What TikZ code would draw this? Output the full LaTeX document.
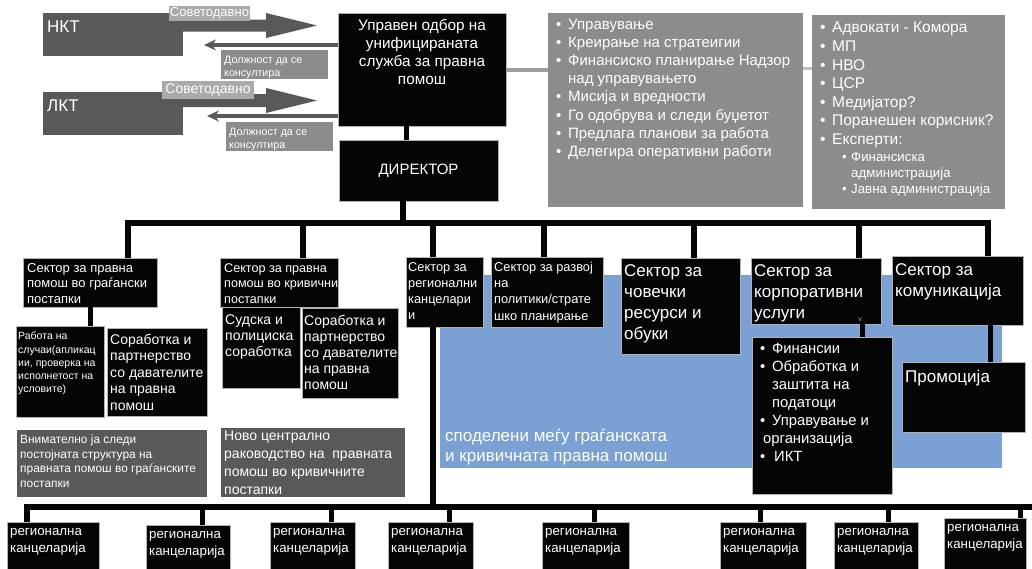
\documentclass[tikz,border=0pt]{standalone}
\usepackage{fontspec}
\setmainfont{Liberation Sans}
\usetikzlibrary{arrows.meta,calc}
\definecolor{dk}{RGB}{89,89,89}
\definecolor{md}{RGB}{140,140,140}
\definecolor{lt}{RGB}{170,170,170}
\definecolor{bl}{RGB}{123,160,212}
\definecolor{bk}{RGB}{5,5,5}
\newcommand\mybul[1]{\makebox[#1][l]{•}}
\newcommand\myind[1]{\makebox[#1][l]{}}
\tikzset{
  box/.style={anchor=north west, inner sep=0pt, outer sep=0pt},
  blk/.style={box, fill=bk, draw=gray!60, line width=0.6pt},
  dkb/.style={box, fill=dk},
  mdb/.style={box, fill=md},
  txt/.style={anchor=north west, inner sep=0pt, align=left, text=white},
  conn/.style={draw=bk, line width=6pt, line join=miter},
  gconn/.style={draw=gray!75, line width=4pt},
  thinarr/.style={draw=dk, line width=3.5pt, -{Stealth[length=12pt,width=11pt]}},
}
\begin{document}
\begin{tikzpicture}[x=1pt,y=-1pt]
\useasboundingbox (0,0) rectangle (1032,568);
\fill[white] (0,0) rectangle (1032,568);
\clip (0,0) rectangle (1032,568);

% ---------- top left ----------
\node[dkb, minimum width=140, minimum height=43] (nkt) at (43,13) {};
\node[txt, font=\fontsize{17}{20}\selectfont] (nktt) at (47,21) {НКТ};
\fill[dk] (nkt.east |- 0,19.5) -- (266,19.5) -- (266,13) -- (317,25.5) -- (266,38) -- (266,31.5) -- (nkt.east |- 0,31.5) -- cycle;
\node[box, fill=lt, text=white, minimum width=81, minimum height=15, font=\fontsize{13}{14}\selectfont] (sov1) at (169,6) {Советодавно};

\node[dkb, minimum width=140, minimum height=43] (lkt) at (43,92) {};
\node[txt, font=\fontsize{17}{20}\selectfont] (lktt) at (47,100) {ЛКТ};
\fill[dk] (lkt.east |- 0,94) -- (266,94) -- (266,88) -- (317,100.5) -- (266,113) -- (266,107) -- (lkt.east |- 0,107) -- cycle;
\node[box, fill=lt, text=white, minimum width=92, minimum height=18, font=\fontsize{14}{16}\selectfont] (sov2) at (162,81) {Советодавно};

% board and director
\node[blk, minimum width=168, minimum height=113] (board) at (338,13) {};
\node[anchor=north, inner sep=0pt, align=center, text=white, font=\fontsize{15.3}{18}\selectfont] (boardt) at (422,19) {Управен одбор на\\унифицираната\\служба за правна\\помош};
\node[blk, minimum width=159, minimum height=61, text=white, font=\fontsize{15}{18}\selectfont] (dir) at (339,140) {ДИРЕКТОР};

\coordinate (a1e) at (204,45);
\coordinate (a2e) at (207,116);
\draw[thinarr] (a1e -| board.west) -- (a1e);
\draw[thinarr] (a2e -| board.west) -- (a2e);

\node[mdb, minimum width=107, minimum height=29] (dol1) at (221,50) {};
\node[txt, font=\fontsize{10.7}{13}\selectfont] (dol1t) at (224,56) {Должност да се\\консултира};
\node[mdb, minimum width=107, minimum height=29] (dol2) at (226,122) {};
\node[txt, font=\fontsize{10.7}{13}\selectfont] (dol2t) at (229,128) {Должност да се\\консултира};

% gray lists
\node[mdb, minimum width=255, minimum height=194] (g1) at (548,13) {};
\node[txt, font=\fontsize{15}{18.1}\selectfont] (g1t) at (556,19) {\mybul{12pt}Управување\\\mybul{12pt}Креирање на стратеигии\\\mybul{12pt}Финансиско планирање Надзор\\\myind{12pt}над управувањето\\\mybul{12pt}Мисија и вредности\\\mybul{12pt}Го одобрува и следи буџетот\\\mybul{12pt}Предлага планови за работа\\\mybul{12pt}Делегира оперативни работи};
\node[mdb, minimum width=193, minimum height=194] (g2) at (812,15) {};
\node[txt, font=\fontsize{15.5}{18.6}\selectfont] (g2t) at (820,22) {\mybul{12pt}Адвокати - Комора\\\mybul{12pt}МП\\\mybul{12pt}НВО\\\mybul{12pt}ЦСР\\\mybul{12pt}Медијатор?\\\mybul{12pt}Поранешен корисник?\\\mybul{12pt}Експерти:};
\node[txt, font=\fontsize{13.3}{16}\selectfont] (g2s) at (842,152) {\mybul{9pt}Финансиска\\\myind{9pt}администрација\\\mybul{9pt}Јавна администрација};

\draw[gconn] (board.east) -- (board.east -| g1.west);
\coordinate (gg) at (0,68);
\draw[gconn, line width=3pt, draw=gray!50] (gg -| g1.east) -- (gg -| g2.west);

% blue shared area
\node[box, fill=bl, minimum width=562, minimum height=193] (blue) at (440,275) {};
\node[txt, font=\fontsize{17}{20}\selectfont] (bluet) at (445,429) {споделени меѓу граѓанската\\и кривичната правна помош};

% sectors
\node[blk, minimum width=134, minimum height=49] (secA) at (23,258) {};
\node[txt, font=\fontsize{13}{15.5}\selectfont] (secAt) at (27,263) {Сектор за правна\\помош во граѓански\\постапки};
\node[blk, minimum width=118, minimum height=49] (secB) at (220,258) {};
\node[txt, font=\fontsize{12.6}{15.5}\selectfont] (secBt) at (224,263) {Сектор за правна\\помош во кривични\\постапки};
\node[blk, minimum width=77, minimum height=70] (secC) at (406,257) {};
\node[txt, font=\fontsize{12.8}{16.2}\selectfont] (secCt) at (408,262) {Сектор за\\регионални\\канцелари\\и};
\node[blk, minimum width=112, minimum height=70] (secD) at (491,257) {};
\node[txt, font=\fontsize{12.8}{16.2}\selectfont] (secDt) at (494,262) {Сектор за развој\\на\\политики/страте\\шко планирање};
\node[blk, minimum width=119, minimum height=96] (secE) at (621,258) {};
\node[txt, font=\fontsize{17}{21}\selectfont] (secEt) at (624,264) {Сектор за\\човечки\\ресурси и\\обуки};
\node[blk, minimum width=130, minimum height=66] (secF) at (751,258) {};
\node[txt, font=\fontsize{17}{21}\selectfont] (secFt) at (754,264) {Сектор за\\корпоративни\\услуги};
\node[blk, minimum width=131, minimum height=69] (secG) at (892,256) {};
\node[txt, font=\fontsize{17}{21}\selectfont] (secGt) at (895,263) {Сектор за\\комуникација};

% main bus
\coordinate (bd) at (406,0);
\draw[conn, line width=5pt] (board.south -| bd) -- (dir.north -| bd);
\coordinate (dd) at (403,223);
\coordinate (dA) at (128,223);
\coordinate (dB) at (303,223);
\coordinate (dC) at (433,223);
\coordinate (dD) at (544,223);
\coordinate (dE) at (694,223);
\coordinate (dF) at (859,223);
\coordinate (dG) at (988,223);
\draw[conn] (dir.south -| dd) -- (dd);
\draw[conn] (secA.north -| dA) -- (dA) -- (dG) -- (secG.north -| dG);
\draw[conn] (dB) -- (secB.north -| dB);
\draw[conn] (dC) -- (secC.north -| dC);
\draw[conn] (dD) -- (secD.north -| dD);
\draw[conn] (dE) -- (secE.north -| dE);
\draw[conn] (dF) -- (secF.north -| dF);

% sub boxes
\node[blk, minimum width=88, minimum height=91] (rab) at (16,326) {};
\node[txt, font=\fontsize{10.5}{13.2}\selectfont] (rabt) at (18,332) {Работа на\\случаи(апликац\\ии, проверка на\\исполнетост на\\условите)};
\node[blk, minimum width=100, minimum height=88] (sor1) at (107,328) {};
\node[txt, font=\fontsize{14}{16.5}\selectfont] (sor1t) at (110,334) {Соработка и\\партнерство\\со давателите\\на правна\\помош};
\node[blk, minimum width=78, minimum height=81] (sud) at (222,307) {};
\node[txt, font=\fontsize{14}{16}\selectfont] (sudt) at (225,315) {Судска и\\полициска\\соработка};
\node[blk, minimum width=96, minimum height=90] (sor2) at (302,308) {};
\node[txt, font=\fontsize{14}{16}\selectfont] (sor2t) at (304,315) {Соработка и\\партнерство\\со давателите\\на правна\\помош};
\coordinate (ar) at (90,0);
\draw[conn, line width=5pt] (secA.south -| ar) -- (rab.north -| ar);

% corporate list and promotion
\node[blk, minimum width=140, minimum height=157] (list) at (752,337) {};
\node[txt, font=\fontsize{14.8}{18}\selectfont] (listt) at (760,343) {\mybul{12pt}Финансии\\\mybul{12pt}Обработка и\\\myind{12pt}заштита на\\\myind{12pt}податоци\\\mybul{12pt}Управување и\\\myind{3pt}организација\\\mybul{14pt}ИКТ};
\node[blk, minimum width=123, minimum height=70] (promo) at (902,362) {};
\node[txt, font=\fontsize{17}{21}\selectfont] (promot) at (905,370) {Промоција};
\coordinate (fl) at (862,0);
\draw[conn, line width=5pt] (secF.south -| fl) -- (list.north -| fl);
\coordinate (gp) at (990,0);
\draw[conn, line width=5pt] (secG.south -| gp) -- (promo.north -| gp);
\node[anchor=center, inner sep=0pt, text=gray!70, font=\fontsize{7}{8}\selectfont] (vv) at (860,320) {v};

% notes
\node[dkb, minimum width=190, minimum height=67] (n1) at (17,430) {};
\node[txt, font=\fontsize{11.9}{14.5}\selectfont] (n1t) at (20,435) {Внимателно ја следи\\постојната структура на\\правната помош во граѓанските\\постапки};
\node[dkb, minimum width=184, minimum height=69] (n2) at (221,428) {};
\node[txt, font=\fontsize{14}{18}\selectfont] (n2t) at (224,431) {Ново централно\\раководство на \ правната\\помош во кривичните\\постапки};

% regional offices
\node[blk, minimum width=92, minimum height=60] (reg1) at (7,522) {};
\node[blk, minimum width=84, minimum height=60] (reg2) at (146,525) {};
\node[blk, minimum width=85, minimum height=60] (reg3) at (270,522) {};
\node[blk, minimum width=85, minimum height=60] (reg4) at (388,522) {};
\node[blk, minimum width=87, minimum height=60] (reg5) at (542,522) {};
\node[blk, minimum width=86, minimum height=60] (reg6) at (720,522) {};
\node[blk, minimum width=84, minimum height=60] (reg7) at (834,522) {};
\node[blk, minimum width=82, minimum height=60] (reg8) at (944,518) {};
\foreach \r in {1,...,8}{
  \node[txt, font=\fontsize{13.3}{17}\selectfont] (reg\r t) at ($(reg\r.north west)+(3,6)$) {регионална\\канцеларија};
}
\coordinate (r1) at (27,507);
\coordinate (r2) at (202,507);
\coordinate (r3) at (331,507);
\coordinate (r4) at (449,507);
\coordinate (r5) at (594,507);
\coordinate (r6) at (760,507);
\coordinate (r7) at (888,507);
\coordinate (r8) at (1020,507);
\coordinate (rE) at (1040,507);
\coordinate (cv) at (433,507);
\draw[conn] (reg1.north -| r1) -- (r1) -- (rE);
\draw[conn] (secC.south -| cv) -- (cv);
\foreach \r in {2,...,8}{
  \draw[conn, line width=5pt] (r\r) -- (reg\r.north -| r\r);
}
\end{tikzpicture}
\end{document}
